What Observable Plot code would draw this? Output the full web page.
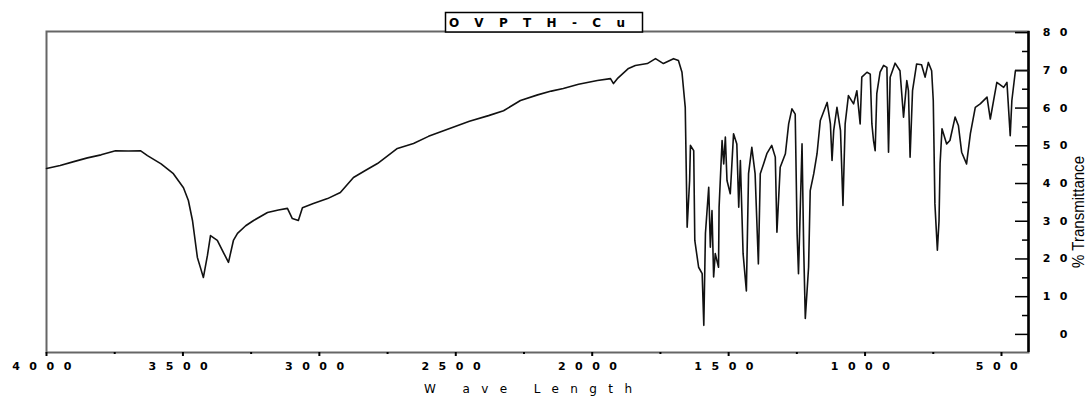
<!DOCTYPE html>
<html>
<head>
<meta charset="utf-8">
<script src="https://cdn.jsdelivr.net/npm/d3@7"></script>
<script src="https://cdn.jsdelivr.net/npm/@observablehq/plot@0.6"></script>
<style>
  body { margin: 0; background: #fff; }
  #chart { width: 1087px; height: 399px; }
</style>
</head>
<body>
<div id="chart"></div>
<script>
// ---- data ----
const wavenumber = [
  4000, 3950, 3900, 3850, 3800, 3747, 3700, 3656, 3630, 3580, 3535, 3498, 3480, 3465, 3447, 3435, 3425, 3410,
  3399, 3374, 3350, 3333, 3315, 3300, 3270, 3241, 3190, 3150, 3117, 3099, 3077, 3062, 3022, 2970, 2923, 2875,
  2830, 2787, 2714, 2655, 2600, 2545, 2450, 2380, 2325, 2263, 2200, 2150, 2106, 2050, 1981, 1933, 1922, 1908,
  1867, 1842, 1798, 1768, 1739, 1702, 1684, 1671, 1659, 1652, 1643, 1640, 1628, 1624, 1610, 1597, 1591, 1585,
  1573, 1567, 1561, 1555, 1549, 1537, 1535, 1524, 1518, 1512, 1506, 1494, 1482, 1470, 1463, 1457, 1447, 1435,
  1427, 1415, 1403, 1391, 1384, 1372, 1360, 1342, 1329, 1323, 1311, 1292, 1280, 1268, 1256, 1249, 1244, 1231,
  1225, 1219, 1207, 1201, 1188, 1176, 1164, 1139, 1127, 1121, 1115, 1103, 1090, 1081, 1073, 1061, 1042, 1030,
  1018, 1012, 993, 981, 975, 969, 963, 957, 945, 932, 920, 914, 908, 890, 872, 859, 847, 841, 835, 826, 811,
  793, 780, 768, 756, 750, 744, 735, 729, 725, 718, 701, 689, 670, 658, 646, 628, 614, 596, 578, 553, 541, 529,
  517, 492, 480, 468, 462, 449, 413, 401
];
const transmittance = [
  44.0, 44.8, 45.8, 46.8, 47.6, 48.7, 48.6, 48.7, 47.4, 45.2, 42.6, 38.9, 35.5, 30.2, 20.4, 17.5, 15.1, 21.0,
  26.2, 24.9, 21.5, 19.1, 24.9, 26.8, 28.8, 30.2, 32.3, 33.0, 33.4, 30.7, 30.2, 33.6, 34.7, 36.0, 37.6, 41.6,
  43.5, 45.3, 49.3, 50.6, 52.5, 54.0, 56.5, 58.0, 59.3, 62.0, 63.5, 64.5, 65.2, 66.3, 67.3, 67.8, 66.5, 67.8,
  70.5, 71.3, 71.8, 73.1, 71.8, 73.1, 72.6, 69.5, 60.2, 28.4, 40.8, 50.1, 48.7, 24.9, 17.8, 16.1, 2.4, 26.8,
  39.0, 23.1, 32.8, 15.2, 21.4, 17.8, 33.7, 51.4, 45.2, 52.3, 40.8, 37.3, 53.2, 50.5, 33.7, 46.1, 21.4, 11.5,
  42.6, 49.6, 42.6, 18.7, 42.6, 45.2, 47.9, 50.1, 47.0, 27.1, 44.3, 47.9, 55.8, 59.8, 58.4, 26.7, 16.1, 50.5,
  23.1, 4.2, 17.8, 38.1, 42.6, 47.9, 56.7, 61.5, 55.8, 46.1, 54.0, 60.2, 54.0, 34.2, 55.8, 63.3, 61.1, 64.6,
  55.8, 68.2, 69.5, 69.0, 55.8, 51.4, 48.7, 63.8, 69.5, 71.3, 70.8, 48.3, 68.2, 71.9, 69.9, 57.6, 67.3, 64.6, 47.0, 64.6, 71.7,
  71.5, 68.2, 72.1, 69.9, 62.0, 34.6, 22.3, 30.0, 45.3, 54.5, 50.5, 51.4, 57.6, 55.4, 48.3, 45.2, 53.2, 60.2, 61.1, 62.9, 57.1, 62.0,
  66.8, 65.5, 66.8, 52.7, 62.0, 69.9, 69.9, 69.9
];
const xMajorTicks = [4000, 3500, 3000, 2500, 2000, 1500, 1000, 500];
const xMinorTicks = [3750, 3250, 2750, 2250, 1750, 1250, 750];
const yMajorTicks = [0, 10, 20, 30, 40, 50, 60, 70, 80];
const yMinorTicks = [5, 15, 25, 35, 45, 55, 65, 75];
const chartTitle = "OVPTH-Cu";
const xTitle = "W ave Length";
const yTitle = "% Transmittance";

const spectrum = wavenumber.map((w, i) => ({w, t: transmittance[i]}));

const plot = Plot.plot({
  width: 1087,
  height: 399,
  marginLeft: 46,
  marginRight: 59,
  marginTop: 31,
  marginBottom: 47,
  style: {fontFamily: "'DejaVu Sans', sans-serif", fontSize: "11px", fontWeight: "bold", color: "#000", background: "#fff"},
  x: {domain: [4000, 401], label: null},
  y: {domain: [-4.8, 80.3], label: null},
  marks: [
    Plot.frame({stroke: "#666", strokeWidth: 2}),
    Plot.axisX({ticks: xMajorTicks, tickSize: 4, tickPadding: 6, strokeWidth: 2, tickFormat: d => String(d), label: null}),
    Plot.axisX({ticks: xMinorTicks, tickSize: 2, strokeWidth: 2, text: null, label: null}),
    Plot.axisY({anchor: "right", ticks: yMajorTicks, tickSize: -14, tickPadding: 62.5, textAnchor: "end", strokeWidth: 1.5, tickFormat: d => String(d), label: null}),
    Plot.axisY({anchor: "right", ticks: yMinorTicks, tickSize: -7, strokeWidth: 1.5, text: null, label: null}),
    Plot.ruleX([401], {stroke: "#000", strokeWidth: 2.5}),
    Plot.line(spectrum, {x: "w", y: "t", stroke: "#111", strokeWidth: 1.6})
  ]
});

const svg = d3.select(plot);
svg.selectAll('g[aria-label="x-axis tick label"] text, g[aria-label="y-axis tick label"] text')
  .style("letter-spacing", "9.5px");

// title box
svg.append("rect")
  .attr("x", 445.5).attr("y", 12.5).attr("width", 197).attr("height", 19.5)
  .attr("fill", "#fff").attr("stroke", "#000").attr("stroke-width", 1.5);
svg.append("text")
  .attr("x", 449).attr("y", 27)
  .attr("text-anchor", "start")
  .attr("textLength", 176).attr("lengthAdjust", "spacing")
  .style("font-family", "'DejaVu Sans', sans-serif").style("font-size", "12px").style("font-weight", "bold")
  .attr("fill", "#000")
  .text(chartTitle);

// x title
svg.append("text")
  .attr("x", 424).attr("y", 393)
  .attr("text-anchor", "start")
  .attr("textLength", 208).attr("lengthAdjust", "spacing")
  .style("font-family", "'DejaVu Sans', sans-serif").style("font-size", "12px").style("font-weight", "normal")
  .attr("fill", "#000")
  .text(xTitle);

// y title
svg.append("text")
  .attr("transform", "translate(1084,212) rotate(-90)")
  .attr("text-anchor", "middle")
  .attr("textLength", 112).attr("lengthAdjust", "spacingAndGlyphs")
  .style("font-family", "'Liberation Sans Narrow', 'Liberation Sans', sans-serif").style("font-size", "17px").style("font-weight", "normal")
  .attr("fill", "#000")
  .text(yTitle);

document.getElementById("chart").appendChild(plot);
</script>
</body>
</html>
